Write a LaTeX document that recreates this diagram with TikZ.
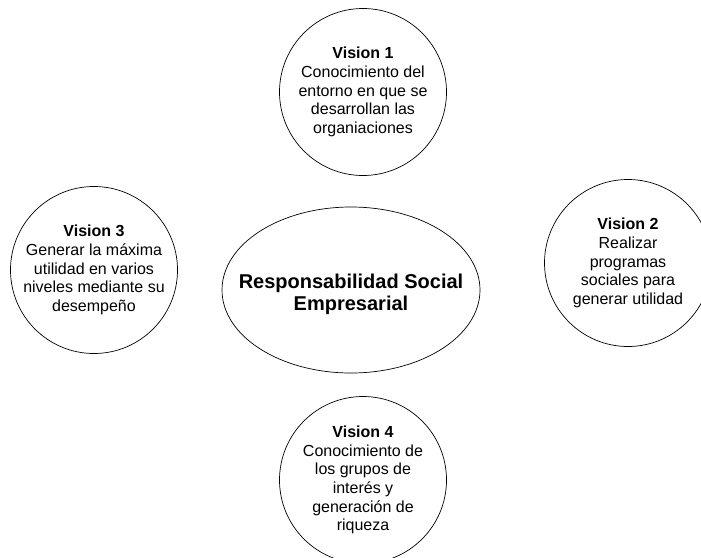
\documentclass[tikz,border=0pt]{standalone}
\usepackage{fontspec}
\setmainfont{Liberation Sans}
\usetikzlibrary{shapes.geometric}
\tikzset{
  vision/.style={circle, draw, line width=0.7pt, minimum size=167pt, inner sep=0pt, align=center, font=\fontsize{16}{18.6}\selectfont},
  rse/.style={ellipse, draw, line width=0.7pt, minimum width=258pt, minimum height=166pt, inner sep=0pt},
  rsetext/.style={align=center, inner sep=0pt, font=\bfseries\fontsize{20}{22}\selectfont}
}
\begin{document}
\begin{tikzpicture}[x=1pt,y=-1pt]
\useasboundingbox (0,0) rectangle (701,557);
\node[rse] (rse) at (351,290) {};
\node[rsetext] (rsetxt) at (351,294) {Responsabilidad Social\\Empresarial};
\node[vision] (v1) at (363,92) {\textbf{Vision 1}\\Conocimiento del\\entorno en que se\\desarrollan las\\organiaciones};
\node[vision] (v2) at (628,263) {\textbf{Vision 2}\\Realizar\\programas\\sociales para\\generar utilidad};
\node[vision] (v3) at (94,270) {\textbf{Vision 3}\\Generar la máxima\\utilidad en varios\\niveles mediante su\\desempeño};
\node[vision] (v4) at (363,480) {\textbf{Vision 4}\\Conocimiento de\\los grupos de\\interés y\\generación de\\riqueza};
\end{tikzpicture}
\end{document}
